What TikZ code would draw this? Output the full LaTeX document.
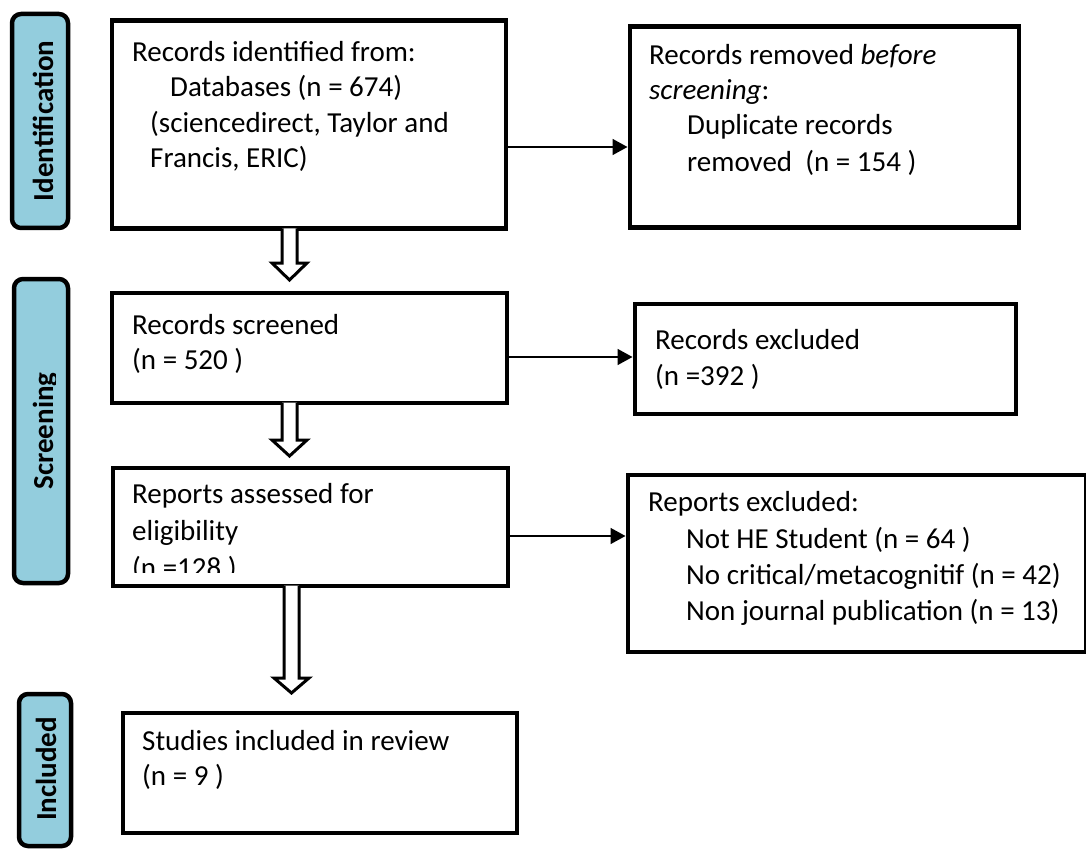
\documentclass[tikz,border=0pt]{standalone}
\usepackage{fontspec}
\setmainfont{Carlito}
\usetikzlibrary{arrows.meta,calc}
\definecolor{phase}{RGB}{147,205,221}
\tikzset{
  mainbox/.style={draw=black, line width=4.5pt, fill=white, rectangle, inner sep=0pt, anchor=north west},
  phasebox/.style={draw=black, line width=4.5pt, fill=phase, rounded corners=9pt},
  phaselabel/.style={rotate=90, anchor=base, inner sep=0pt, font=\fontsize{29}{35}\selectfont\bfseries},
  txt/.style={anchor=base west, inner sep=0pt, font=\fontsize{29}{35}\selectfont},
  thinarrow/.style={draw=black, line width=1.6pt, -{Triangle[length=15pt,width=16pt]}},
  hollow/.style={draw=black, line width=3pt, fill=white, line join=miter}
}
\newcommand\hollowarrow[4]{%
  \draw[hollow] (#1-7.5,#2) -- (#1-7.5,#3) -- (#1-17.5,#3) -- (#1,#4) -- (#1+17.5,#3) -- (#1+7.5,#3) -- (#1+7.5,#2);}
\begin{document}
\begin{tikzpicture}[x=1pt,y=-1pt]
\useasboundingbox (0,0) rectangle (1086,850);

% phase labels
\draw[phasebox] (12,14) rectangle (68,228);
\node[phaselabel] (lid) at (53,121) {Identification};
\draw[phasebox] (14,279) rectangle (68,583);
\begin{scope}
  \clip (14,279) rectangle (55,583);
  \node[phaselabel] (lsc) at (53,431) {Screening};
\end{scope}
\draw[phasebox] (19,694) rectangle (71,846);
\node[phaselabel] (lin) at (56,769) {Included};

% boxes
\node[mainbox, minimum width=394pt, minimum height=208pt] (b1) at (109.5,18.5) {};
\node[mainbox, minimum width=389pt, minimum height=201pt] (b2) at (627.5,24.5) {};
\node[mainbox, minimum width=395pt, minimum height=110pt] (b3) at (109.5,290.5) {};
\node[mainbox, minimum width=381pt, minimum height=110pt] (b4) at (632.5,301.5) {};
\node[mainbox, minimum width=395pt, minimum height=118pt] (b5) at (110.5,465.5) {};
\node[mainbox, minimum width=458pt, minimum height=177pt] (b6) at (625.5,472.5) {};
\node[mainbox, minimum width=394pt, minimum height=120pt] (b7) at (120.5,710.5) {};

% texts
\node[txt] (t11) at (132,62) {Records identified from:};
\node[txt] (t12) at (170,97) {Databases (n = 674)};
\node[txt] (t13) at (150,133) {(sciencedirect, Taylor and};
\node[txt] (t14) at (150,168) {Francis, ERIC)};

\node[txt] (t21) at (649,65) {Records removed \textit{before}};
\node[txt] (t22) at (649,100) {\textit{screening}:};
\node[txt] (t23) at (687,135) {Duplicate records};
\node[txt] (t24) at (687,172) {removed\ \ (n = 154 )};

\node[txt] (t31) at (132,334) {Records screened};
\node[txt] (t32) at (132,369) {(n = 520 )};

\node[txt] (t41) at (655,349) {Records excluded};
\node[txt] (t42) at (655,385) {(n =392 )};

\begin{scope}
  \clip (110.5,465.5) rectangle (505.5,572);
  \node[txt] (t51) at (132,503) {Reports assessed for};
  \node[txt] (t52) at (132,540) {eligibility};
  \node[txt] (t53) at (132,577) {(n =128 )};
\end{scope}

\node[txt] (t61) at (648,511) {Reports excluded:};
\node[txt] (t62) at (686,548) {Not HE Student (n = 64 )};
\node[txt] (t63) at (686,584) {No critical/metacognitif (n = 42)};
\node[txt] (t64) at (686,620) {Non journal publication (n = 13)};

\node[txt] (t71) at (142,750) {Studies included in review};
\node[txt] (t72) at (142,785) {(n = 9 )};

% thin arrows
\coordinate (a1) at (0,147);
\coordinate (a2) at (0,357);
\coordinate (a3) at (0,536);
\draw[thinarrow] (b1.east |- a1) -- (b2.west |- a1);
\draw[thinarrow] (b3.east |- a2) -- (b4.west |- a2);
\draw[thinarrow] (b5.east |- a3) -- (b6.west |- a3);

% hollow arrows
\hollowarrow{289.5}{228.5}{263}{280}
\hollowarrow{289.5}{402.5}{440}{456}
\hollowarrow{291.5}{585.5}{678}{693}
\end{tikzpicture}
\end{document}
